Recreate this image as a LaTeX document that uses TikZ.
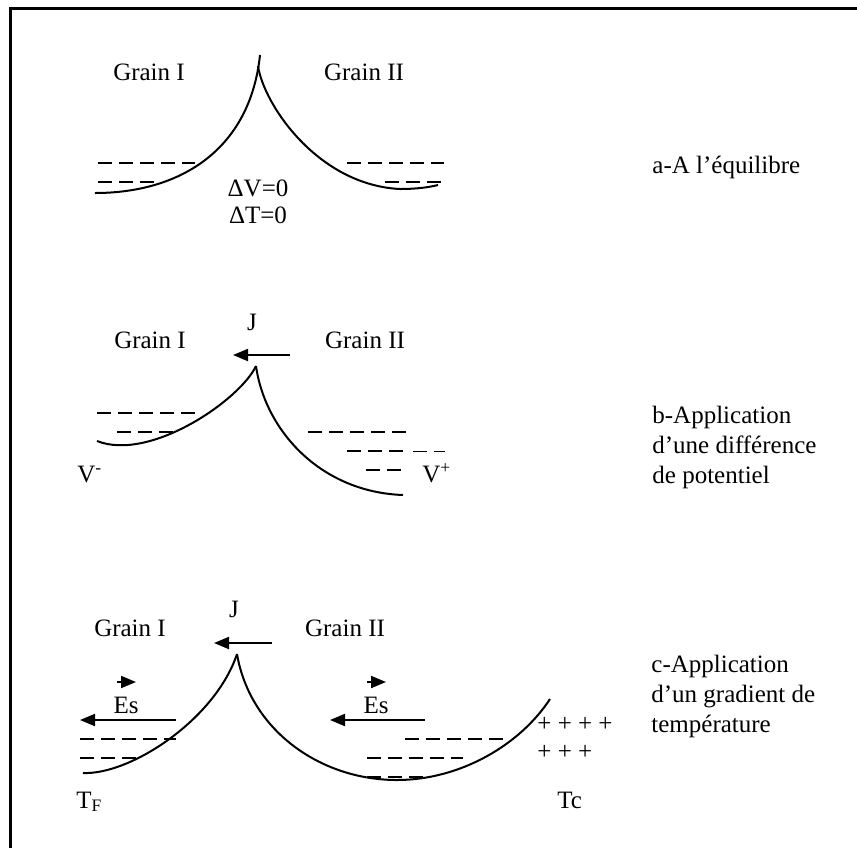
\documentclass[tikz,border=0pt]{standalone}
\usepackage{fontspec}
\setmainfont{Liberation Serif}
\usetikzlibrary{arrows.meta}

\tikzset{
  bande/.style={line width=1pt, dash pattern=on 7pt off 3.5pt},
  courbe/.style={line width=1pt},
  fleche/.style={line width=1pt, -{Triangle[length=7.5pt,width=6pt]}},
  etiq/.style={inner sep=0pt},
}

\begin{document}
\begin{tikzpicture}[x=0.5pt, y=-0.5pt, font=\fontsize{12.5}{15}\selectfont]
  \useasboundingbox (0,0) rectangle (857,848);
  % cadre
  \draw[line width=1.5pt] (10,848) -- (10,8) -- (857,8);

  % a - equilibre
  \draw[courbe] (95,193) .. controls (180,193) and (250,150) .. (260,55);
  \draw[courbe] (258,66) .. controls (264,105) and (318,185) .. (400,189)
                         .. controls (418,189) and (430,187) .. (438,185);
  \draw[bande] (98,163) -- (195,163);
  \draw[bande] (98,182) -- (157,182);
  \draw[bande] (347,163) -- (444,163);
  \draw[bande] (385,182) -- (443,182);
  \node[etiq] (grainIa) at (149,72) {Grain I};
  \node[etiq] (grainIIa) at (364,72) {Grain II};
  \node[etiq] (dVa) at (258,188) {ΔV=0};
  \node[etiq] (dTa) at (258,215) {ΔT=0};
  \node[etiq, anchor=west] (lega) at (652,167) {a-A l’équilibre};

  % b - difference de potentiel
  \draw[courbe] (97,441) .. controls (150,462) and (240,400) .. (256,366);
  \draw[courbe] (256,366) .. controls (265,430) and (320,492) .. (403,495);
  \draw[bande] (97,413) -- (195,413);
  \draw[bande] (117,432) -- (175,432);
  \draw[bande] (308,432) -- (407,432);
  \draw[bande] (347,451) -- (405,451);
  \draw[line width=0.5pt, dash pattern=on 7pt off 3.5pt] (413,451) -- (445,451);
  \draw[bande] (366,470) -- (403,470);
  \coordinate (Jb0) at (290,355);
  \coordinate (Jb1) at (233,355);
  \draw[fleche] (Jb0) -- (Jb1);
  \node[etiq] (Jb) at (252,322) {J};
  \node[etiq] (grainIb) at (150,340) {Grain I};
  \node[etiq] (grainIIb) at (365,340) {Grain II};
  \node[etiq, anchor=base west] (Vm) at (77,482) {V\textsuperscript{-}};
  \node[etiq, anchor=base west] (Vp) at (422,482) {V\textsuperscript{+}};
  \node[etiq, anchor=west, align=left] (legb) at (652,447) {b-Application\\d’une différence\\de potentiel};

  % c - gradient de temperature
  \draw[courbe] (83,773) .. controls (130,775) and (215,720) .. (237,654);
  \draw[courbe] (237,654) .. controls (250,730) and (320,780) .. (397,780)
                          .. controls (460,780) and (520,745) .. (550,699);
  \draw[bande] (80,739) -- (176,739);
  \draw[bande] (80,758) -- (137,758);
  \draw[bande] (405,739) -- (503,739);
  \draw[bande] (367,758) -- (463,758);
  \draw[bande] (367,777) -- (425,777);
  \coordinate (Jc0) at (272,643);
  \coordinate (Jc1) at (214,643);
  \draw[fleche] (Jc0) -- (Jc1);
  \node[etiq] (Jc) at (234,609) {J};
  \node[etiq] (grainIc) at (130,628) {Grain I};
  \node[etiq] (grainIIc) at (345,628) {Grain II};
  % champ Es
  \coordinate (Es1a) at (117,682);
  \coordinate (Es1b) at (136,682);
  \draw[fleche] (Es1a) -- (Es1b);
  \node[etiq, anchor=base] (EsI) at (126,713) {Es};
  \coordinate (Es2a) at (176,720);
  \coordinate (Es2b) at (80,720);
  \draw[fleche] (Es2a) -- (Es2b);
  \coordinate (Es3a) at (367,682);
  \coordinate (Es3b) at (386,682);
  \draw[fleche] (Es3a) -- (Es3b);
  \node[etiq, anchor=base] (EsII) at (376,713) {Es};
  \coordinate (Es4a) at (425,720);
  \coordinate (Es4b) at (330,720);
  \draw[fleche] (Es4a) -- (Es4b);
  \node[etiq, anchor=west] (plus1) at (537,724) {+ + + +};
  \node[etiq, anchor=west] (plus2) at (537,752) {+ + +};
  \node[etiq, anchor=base west] (TF) at (76,808) {T\textsubscript{F}};
  \node[etiq, anchor=base west] (Tc) at (557,808) {Tc};
  \node[etiq, anchor=west, align=left] (legc) at (651,696) {c-Application\\d’un gradient de\\température};
\end{tikzpicture}
\end{document}
